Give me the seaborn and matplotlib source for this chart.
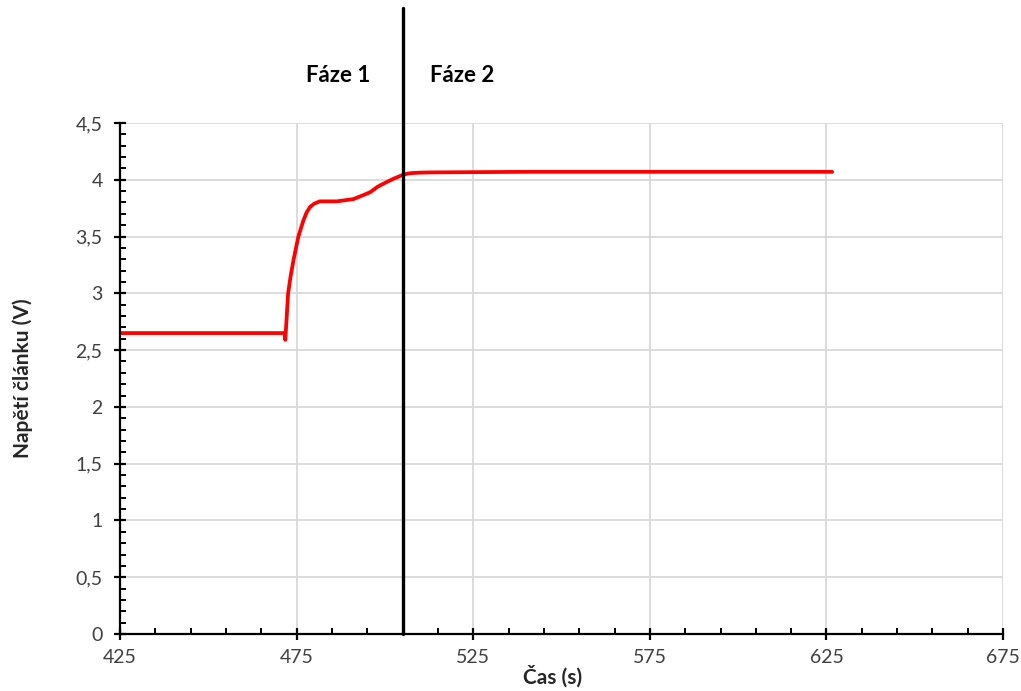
import numpy as np
import pandas as pd
import matplotlib
matplotlib.use("Agg")
import matplotlib.pyplot as plt
import seaborn as sns
from matplotlib.ticker import MultipleLocator, FuncFormatter

# values
time_s = [425.0, 440.0, 455.0, 471.6, 471.8, 472.6, 473.3, 474.1, 475.5, 476.9,
          477.8, 478.8, 480.0, 481.6, 486.4, 491.1, 493.5, 495.8, 498.0, 500.5,
          502.5, 504.8, 506.5, 508.0, 510.0, 512.8, 540.0, 575.0, 600.0, 626.6]
voltage_v = [2.65, 2.65, 2.65, 2.65, 2.59, 3.00, 3.15, 3.29, 3.50, 3.64,
             3.71, 3.76, 3.79, 3.81, 3.81, 3.83, 3.86, 3.89, 3.94, 3.98,
             4.01, 4.04, 4.055, 4.06, 4.063, 4.065, 4.07, 4.07, 4.07, 4.07]
x_ticks = [425, 475, 525, 575, 625, 675]
phase_split = 505
phase_labels = ["Fáze 1", "Fáze 2"]
phase_label_x = [486.7, 521.8]

df = pd.DataFrame({"Čas (s)": time_s, "Napětí článku (V)": voltage_v})

sns.set_style("white")
plt.rcParams["font.family"] = ["Lato", "DejaVu Sans"]

fig = plt.figure(figsize=(10.21, 6.91), dpi=100)
ax = fig.add_axes([0.1175, 0.0825, 0.865, 0.7395])

sns.lineplot(data=df, x="Čas (s)", y="Napětí článku (V)", ax=ax, color="#ff0000",
             linewidth=2.7, sort=False, estimator=None)

ax.set_xlim(425, 675)
ax.set_ylim(0, 4.5)
ax.set_xticks(x_ticks)
ax.xaxis.set_minor_locator(MultipleLocator(10, offset=5))
ax.yaxis.set_major_locator(MultipleLocator(0.5))
ax.yaxis.set_minor_locator(MultipleLocator(0.1))
ax.yaxis.set_major_formatter(FuncFormatter(lambda v, p: f"{v:g}".replace(".", ",")))

ax.grid(True, which="major", color="#d9d9d9", linewidth=1.3)
for s in ["top", "right"]:
    ax.spines[s].set_visible(False)
for s in ["left", "bottom"]:
    ax.spines[s].set_color("black")
    ax.spines[s].set_linewidth(1.6)

ax.tick_params(which="both", bottom=True, left=True)
ax.tick_params(which="major", direction="inout", length=9, width=1.6, color="black",
               labelsize=14, labelcolor="#404040")
ax.tick_params(which="minor", direction="in", length=4, width=1.4, color="black")
ax.tick_params(axis="x", which="major", pad=6)
ax.tick_params(axis="y", which="major", pad=8)

ax.set_xlabel("Čas (s)", fontsize=15, fontweight="bold", color="#262626")
ax.set_ylabel("Napětí článku (V)", fontsize=15, fontweight="bold", color="#262626")
ax.xaxis.set_label_coords(0.49, -0.062)
ax.yaxis.set_label_coords(-0.098, 0.5)

# phase divider reaching above the plot area
ax.plot([phase_split, phase_split], [0, 5.51], color="black", linewidth=2.4,
        clip_on=False, zorder=5)
for lbl, xp in zip(phase_labels, phase_label_x):
    ax.text(xp, 4.92, lbl, ha="center", va="center", fontsize=16,
            fontweight="bold", color="black", clip_on=False)

fig.savefig("out.png", dpi=100)
